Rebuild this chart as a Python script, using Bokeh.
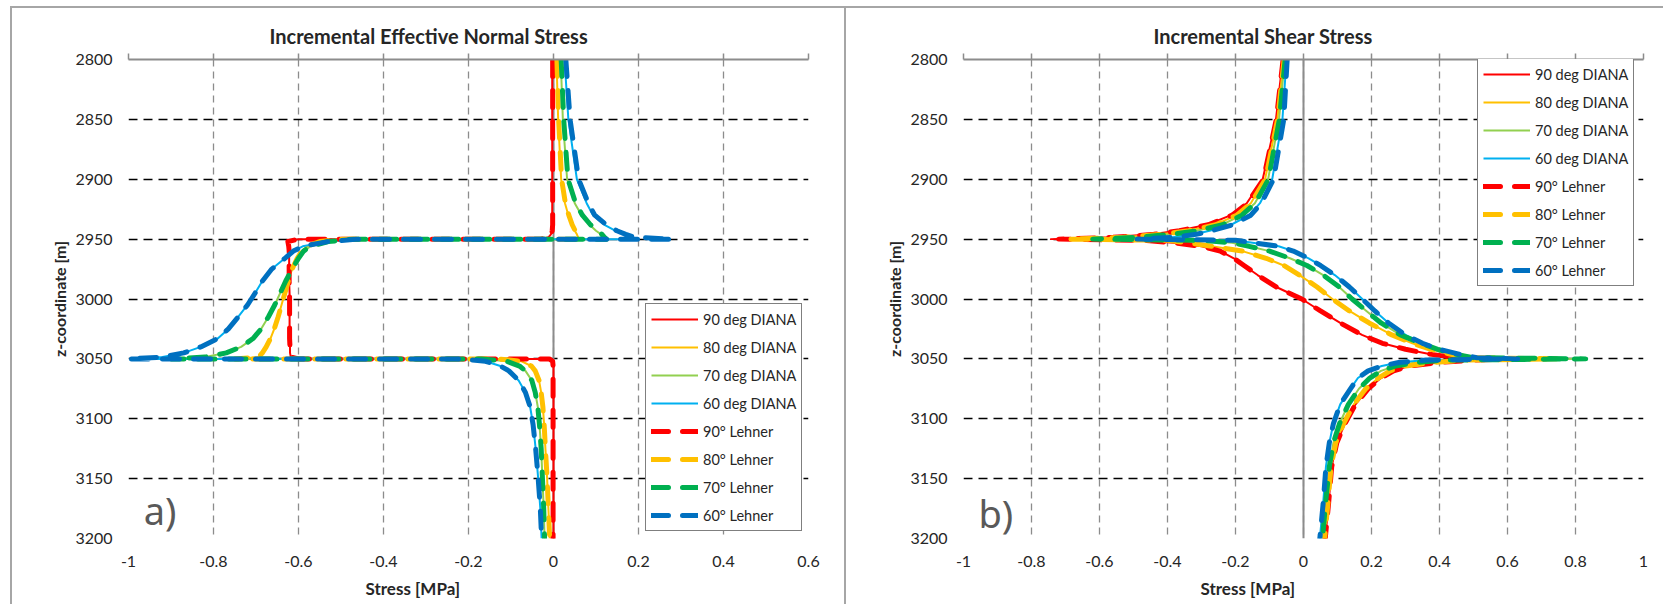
from bokeh.plotting import figure
from bokeh.layouts import row, column
from bokeh.models import (Range1d, FixedTicker, CustomJSTickFormatter, LinearAxis, Span,
                          Label, Legend, LegendItem, Title, Div, Spacer)
from bokeh.embed import file_html
from bokeh.resources import INLINE

# ---------------- data ----------------
SERIES_LABELS = ["90 deg DIANA", "80 deg DIANA", "70 deg DIANA", "60 deg DIANA",
                 "90° Lehner", "80° Lehner", "70° Lehner", "60° Lehner"]
DIANA_COLORS = ["#FF0000", "#FFC000", "#92D050", "#00B0F0"]
LEHNER_COLORS = ["#FF0000", "#FFC000", "#00B050", "#0070C0"]

Y_TICKS = [2800, 2850, 2900, 2950, 3000, 3050, 3100, 3150, 3200]
Y_TICK_LABELS = ["2800", "2850", "2900", "2950", "3000", "3050", "3100", "3150", "3200"]
X_TICKS_A = [-1, -0.8, -0.6, -0.4, -0.2, 0, 0.2, 0.4, 0.6]
X_TICK_LABELS_A = ["-1", "-0.8", "-0.6", "-0.4", "-0.2", "0", "0.2", "0.4", "0.6"]
X_TICKS_B = [-1, -0.8, -0.6, -0.4, -0.2, 0, 0.2, 0.4, 0.6, 0.8, 1]
X_TICK_LABELS_B = ["-1", "-0.8", "-0.6", "-0.4", "-0.2", "0", "0.2", "0.4", "0.6", "0.8", "1"]

# a) Incremental effective normal stress [MPa] vs z-coordinate [m]
Z_NORMAL = [2800, 2850, 2900, 2920, 2930, 2938, 2943, 2946, 2948.5, 2950, 2950, 2952, 2956, 2960,
            2966, 2975, 2985, 2995, 3005, 3015, 3025, 3033, 3040, 3045, 3048.5, 3050, 3050, 3052,
            3056, 3060, 3068, 3078, 3090, 3105, 3125, 3150, 3175, 3200]
N90_DIANA = [-0.003, -0.003, -0.003, -0.003, -0.003, -0.003, -0.004, -0.006, -0.012, -0.03,
             -0.60, -0.625, -0.623, -0.622, -0.622, -0.622, -0.622, -0.621, -0.621, -0.621,
             -0.621, -0.621, -0.62, -0.62, -0.618, -0.60, -0.008, 0.0, 0.0, 0.0,
             0.0, 0.0, 0.0, 0.0, 0.0, 0.0, 0.0, 0.0]
N80_DIANA = [0.007, 0.011, 0.018, 0.027, 0.035, 0.043, 0.05, 0.055, 0.058, 0.058,
             -0.50, -0.55, -0.58, -0.592, -0.603, -0.615, -0.624, -0.632, -0.64, -0.648,
             -0.657, -0.666, -0.676, -0.685, -0.695, -0.74, -0.13, -0.075, -0.052, -0.043,
             -0.034, -0.029, -0.025, -0.022, -0.019, -0.015, -0.012, -0.009]
N70_DIANA = [0.017, 0.022, 0.032, 0.05, 0.066, 0.085, 0.10, 0.112, 0.118, 0.12,
             -0.47, -0.53, -0.572, -0.588, -0.60, -0.615, -0.63, -0.643, -0.656, -0.671,
             -0.688, -0.707, -0.735, -0.77, -0.82, -0.90, -0.17, -0.11, -0.08, -0.066,
             -0.051, -0.043, -0.037, -0.033, -0.029, -0.026, -0.023, -0.021]
N60_DIANA = [0.026, 0.035, 0.055, 0.078, 0.093, 0.12, 0.145, 0.165, 0.185, 0.19,
             -0.46, -0.53, -0.59, -0.612, -0.632, -0.663, -0.685, -0.702, -0.72, -0.742,
             -0.765, -0.79, -0.83, -0.87, -0.92, -0.99, -0.22, -0.16, -0.125, -0.105,
             -0.082, -0.066, -0.055, -0.048, -0.042, -0.036, -0.031, -0.028]
N90_LEHNER = [-0.002, -0.002, -0.002, -0.002, -0.002, -0.002, -0.003, -0.005, -0.01, -0.03,
              -0.60, -0.625, -0.623, -0.622, -0.622, -0.622, -0.622, -0.621, -0.621, -0.621,
              -0.621, -0.621, -0.62, -0.62, -0.618, -0.60, -0.01, -0.002, -0.001, -0.001,
              -0.001, -0.001, -0.001, -0.001, -0.001, -0.001, -0.001, -0.001]
N80_LEHNER = [0.008, 0.012, 0.019, 0.028, 0.036, 0.044, 0.051, 0.056, 0.059, 0.06,
              -0.50, -0.55, -0.58, -0.592, -0.603, -0.615, -0.624, -0.632, -0.64, -0.648,
              -0.657, -0.666, -0.676, -0.685, -0.695, -0.75, -0.13, -0.075, -0.052, -0.043,
              -0.034, -0.029, -0.025, -0.022, -0.019, -0.015, -0.012, -0.009]
N70_LEHNER = [0.018, 0.024, 0.034, 0.052, 0.068, 0.087, 0.102, 0.114, 0.12, 0.125,
              -0.47, -0.53, -0.572, -0.588, -0.60, -0.615, -0.63, -0.643, -0.656, -0.671,
              -0.688, -0.707, -0.735, -0.77, -0.82, -0.90, -0.17, -0.11, -0.08, -0.066,
              -0.051, -0.043, -0.037, -0.033, -0.029, -0.026, -0.023, -0.021]
N60_LEHNER = [0.029, 0.039, 0.059, 0.082, 0.097, 0.124, 0.149, 0.17, 0.19, 0.28,
              -0.46, -0.53, -0.59, -0.612, -0.632, -0.663, -0.685, -0.702, -0.72, -0.742,
              -0.765, -0.79, -0.83, -0.87, -0.92, -1.0, -0.22, -0.16, -0.125, -0.105,
              -0.082, -0.066, -0.055, -0.048, -0.042, -0.036, -0.031, -0.028]

# b) Incremental shear stress [MPa] vs z-coordinate [m]
Z_SHEAR = [2800, 2850, 2900, 2920, 2930, 2938, 2943, 2946, 2948.5, 2950, 2951, 2953, 2956, 2960,
           2966, 2972, 2980, 2990, 3000, 3010, 3020, 3030, 3037, 3042, 3046, 3049, 3050, 3051,
           3053, 3056, 3060, 3066, 3075, 3088, 3104, 3120, 3140, 3170, 3200]
S90_DIANA = [-0.061, -0.081, -0.12, -0.167, -0.213, -0.283, -0.369, -0.447, -0.57, -0.743,
             -0.47, -0.385, -0.30, -0.245, -0.205, -0.175, -0.135, -0.08, -0.005, 0.05,
             0.108, 0.172, 0.232, 0.30, 0.37, 0.45, 0.60, 0.50, 0.40, 0.31,
             0.265, 0.228, 0.19, 0.153, 0.122, 0.098, 0.083, 0.074, 0.064]
S80_DIANA = [-0.058, -0.077, -0.113, -0.155, -0.197, -0.26, -0.34, -0.42, -0.53, -0.696,
             -0.40, -0.34, -0.27, -0.18, -0.11, -0.058, -0.012, 0.04, 0.085, 0.135,
             0.193, 0.26, 0.32, 0.375, 0.43, 0.49, 0.72, 0.48, 0.38, 0.30,
             0.255, 0.22, 0.183, 0.148, 0.118, 0.095, 0.081, 0.072, 0.062]
S70_DIANA = [-0.055, -0.072, -0.104, -0.143, -0.182, -0.24, -0.315, -0.39, -0.49, -0.62,
             -0.30, -0.21, -0.16, -0.10, -0.04, 0.01, 0.058, 0.105, 0.143, 0.185,
             0.228, 0.285, 0.345, 0.395, 0.445, 0.50, 0.80, 0.42, 0.33, 0.27,
             0.228, 0.195, 0.163, 0.132, 0.106, 0.088, 0.076, 0.065, 0.056]
S60_DIANA = [-0.05, -0.062, -0.092, -0.128, -0.159, -0.213, -0.276, -0.322, -0.385, -0.50,
             -0.20, -0.15, -0.073, -0.03, 0.015, 0.05, 0.092, 0.135, 0.173, 0.21,
             0.25, 0.30, 0.35, 0.40, 0.457, 0.51, 0.62, 0.36, 0.28, 0.23,
             0.19, 0.16, 0.138, 0.108, 0.088, 0.076, 0.066, 0.058, 0.048]
S90_LEHNER = [-0.06, -0.08, -0.118, -0.165, -0.21, -0.28, -0.365, -0.44, -0.56, -0.72,
              -0.47, -0.385, -0.30, -0.245, -0.205, -0.175, -0.135, -0.08, -0.005, 0.05,
              0.108, 0.172, 0.232, 0.30, 0.37, 0.45, 0.60, 0.50, 0.40, 0.31,
              0.265, 0.228, 0.19, 0.153, 0.122, 0.098, 0.083, 0.074, 0.064]
S80_LEHNER = [-0.057, -0.076, -0.112, -0.154, -0.196, -0.258, -0.338, -0.418, -0.528, -0.69,
              -0.40, -0.34, -0.27, -0.18, -0.11, -0.058, -0.012, 0.04, 0.085, 0.135,
              0.193, 0.26, 0.32, 0.375, 0.43, 0.49, 0.75, 0.48, 0.38, 0.30,
              0.255, 0.22, 0.183, 0.148, 0.118, 0.095, 0.081, 0.072, 0.062]
S70_LEHNER = [-0.054, -0.071, -0.103, -0.142, -0.181, -0.238, -0.312, -0.388, -0.488, -0.62,
              -0.30, -0.21, -0.16, -0.10, -0.04, 0.01, 0.058, 0.105, 0.143, 0.185,
              0.228, 0.285, 0.345, 0.395, 0.445, 0.50, 0.83, 0.42, 0.33, 0.27,
              0.228, 0.195, 0.163, 0.132, 0.106, 0.088, 0.076, 0.065, 0.056]
S60_LEHNER = [-0.048, -0.058, -0.088, -0.124, -0.155, -0.208, -0.27, -0.316, -0.38, -0.49,
              -0.20, -0.15, -0.073, -0.03, 0.015, 0.05, 0.092, 0.135, 0.173, 0.21,
              0.25, 0.30, 0.35, 0.40, 0.457, 0.51, 0.63, 0.36, 0.28, 0.23,
              0.19, 0.16, 0.138, 0.108, 0.088, 0.076, 0.066, 0.058, 0.048]

FONT = "Lato"
TXT = "#262626"
GRAY = "#8c8c8c"
FRAME_GRAY = "#a6a6a6"


def label_formatter(ticks, labels):
    return CustomJSTickFormatter(
        args=dict(tv=ticks, tl=labels),
        code="const i = tv.findIndex(t => Math.abs(t - tick) < 1e-6); return i >= 0 ? tl[i] : '';")


def make_panel(width, height, mleft, mright, mtop, mbottom, xr, xticks, xlabels, z, diana, lehner,
               title, title_offset, xlab_offset, tag, tag_xy, leg_loc):
    p = figure(width=width, height=height, x_range=Range1d(*xr), y_range=Range1d(3200, 2800),
               output_backend="svg", toolbar_location=None,
               min_border_left=mleft, min_border_right=mright, min_border_top=mtop,
               min_border_bottom=mbottom, title=title)
    p.outline_line_color = None
    p.background_fill_color = "white"
    p.border_fill_color = "white"

    p.title.align = "left"
    p.title.offset = title_offset
    p.title.text_font = FONT
    p.title.text_font_style = "bold"
    p.title.text_font_size = "20px"
    p.title.text_color = TXT
    p.title.standoff = 12

    # grids
    p.xgrid.ticker = FixedTicker(ticks=xticks)
    p.xgrid.grid_line_color = GRAY
    p.xgrid.grid_line_width = 1.3
    p.xgrid.grid_line_dash = "7 5"
    p.ygrid.ticker = FixedTicker(ticks=Y_TICKS[1:])
    p.ygrid.grid_line_color = "black"
    p.ygrid.grid_line_width = 1.4
    p.ygrid.grid_line_dash = "9 6"

    # bottom axis (labels only)
    xa = p.xaxis[0]
    xa.ticker = FixedTicker(ticks=xticks)
    xa.formatter = label_formatter(xticks, xlabels)
    xa.axis_line_color = None
    xa.major_tick_line_color = None
    xa.minor_tick_line_color = None
    xa.major_tick_out = 0
    xa.major_tick_in = 0
    xa.major_label_standoff = 17
    xa.major_label_text_font = FONT
    xa.major_label_text_font_size = "16px"
    xa.major_label_text_color = TXT

    # left axis
    ya = p.yaxis[0]
    ya.ticker = FixedTicker(ticks=Y_TICKS)
    ya.formatter = label_formatter(Y_TICKS, Y_TICK_LABELS)
    ya.axis_line_color = None
    ya.major_tick_line_color = None
    ya.minor_tick_line_color = None
    ya.major_tick_out = 0
    ya.major_tick_in = 0
    ya.major_label_standoff = 16
    ya.major_label_text_font = FONT
    ya.major_label_text_font_size = "16px"
    ya.major_label_text_color = TXT
    ya.axis_label = "z-coordinate [m]"
    ya.axis_label_text_font = FONT
    ya.axis_label_text_font_style = "bold"
    ya.axis_label_text_font_size = "16px"
    ya.axis_label_text_color = TXT
    ya.axis_label_standoff = 3

    # top axis line at 2800 with upward ticks
    top = LinearAxis(ticker=FixedTicker(ticks=xticks),
                     formatter=CustomJSTickFormatter(code="return '';"),
                     axis_line_color=GRAY, axis_line_width=2,
                     major_tick_line_color=GRAY, major_tick_line_width=1.5,
                     major_tick_out=6, major_tick_in=0, minor_tick_line_color=None,
                     major_label_standoff=0, major_label_text_font_size="2px")
    p.add_layout(top, "above")

    # x axis title below, shifted like the reference
    p.add_layout(Title(text="Stress [MPa]", align="left", offset=xlab_offset,
                       text_font=FONT, text_font_style="bold", text_font_size="17px",
                       text_color=TXT, standoff=12), "below")

    p.add_layout(Span(location=0, dimension="height", line_color=GRAY, line_width=2,
                      level="underlay"))

    renderers = []
    for xs, c in zip(diana, DIANA_COLORS):
        renderers.append(p.line(xs, z, line_color=c, line_width=2, line_join="round"))
    for xs, c in zip(lehner, LEHNER_COLORS):
        renderers.append(p.line(xs, z, line_color=c, line_width=5, line_dash="17 14",
                                line_cap="round", line_join="round"))

    items = [LegendItem(label=lab, renderers=[r]) for lab, r in zip(SERIES_LABELS, renderers)]
    leg = Legend(items=items, location=leg_loc, border_line_color="black",
                 border_line_width=1.5, background_fill_color="white", background_fill_alpha=1,
                 label_text_font=FONT, label_text_font_size="14.5px", label_text_color=TXT,
                 glyph_width=47, glyph_height=20, label_height=20, spacing=8, padding=5,
                 margin=0, label_standoff=5)
    p.add_layout(leg)

    p.add_layout(Label(x=tag_xy[0], y=tag_xy[1], text=tag, text_align="left",
                       text_baseline="alphabetic", text_font="Noto Sans",
                       text_font_size="38px", text_color="#595959"))
    return p


pa = make_panel(832, 596, 116, 36, 51, 64, (-1, 0.6), X_TICKS_A, X_TICK_LABELS_A, Z_NORMAL,
                [N90_DIANA, N80_DIANA, N70_DIANA, N60_DIANA],
                [N90_LEHNER, N80_LEHNER, N70_LEHNER, N60_LEHNER],
                "Incremental Effective Normal Stress", 141, 237, "a)", (-0.964, 3176), (517, 7))
pb = make_panel(817, 596, 117, 20, 51, 64, (-1, 1), X_TICKS_B, X_TICK_LABELS_B, Z_SHEAR,
                [S90_DIANA, S80_DIANA, S70_DIANA, S60_DIANA],
                [S90_LEHNER, S80_LEHNER, S70_LEHNER, S60_LEHNER],
                "Incremental Shear Stress", 190, 237, "b)", (-0.956, 3179), (514, 252))


def line_div(w, h):
    return Div(text="", width=w, height=h, margin=0,
               styles={"background-color": FRAME_GRAY})


layout = column(
    Spacer(width=1663, height=6, margin=0),
    row(Spacer(width=10, height=2, margin=0), line_div(1653, 2), spacing=0, margin=0),
    row(Spacer(width=10, height=596, margin=0), line_div(2, 596), pa, line_div(2, 596), pb,
        spacing=0, margin=0),
    spacing=0, margin=0)

open("out.html", "w").write(file_html(layout, INLINE))
